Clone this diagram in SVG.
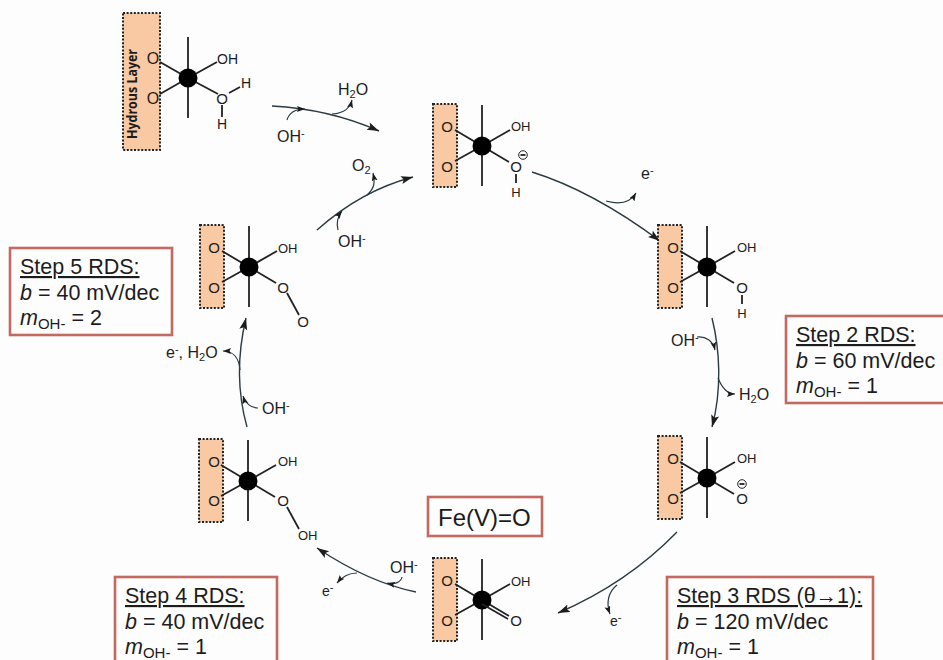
<svg xmlns="http://www.w3.org/2000/svg" width="943" height="660" viewBox="0 0 943 660">
<style>
.bg{fill:#fdfdfe}
.layer{fill:#f8c9a3;stroke:#222;stroke-width:2;stroke-dasharray:2 1.6}
.bond{stroke:#222;stroke-width:1.8;fill:none}
.c{stroke:#2a3a40;stroke-width:1.4;fill:none;marker-end:url(#a)}
.b{stroke:#2a3a40;stroke-width:1.2;fill:none;marker-end:url(#s)}
.box{fill:#fdfdfe;stroke:#c26a60;stroke-width:2.6}
text{font-family:"Liberation Sans",Arial,sans-serif;fill:#1c1c1c}
.l{font-size:13px}
.o{font-size:15px}
.n{font-size:16px}
.e{font-size:14px}
.t{font-size:21.5px}
.u{text-decoration:underline}
.i{font-style:italic}
.sub{font-size:15px}
.ss{font-size:11px}
.m{text-anchor:middle}
.big{font-family:"Open Sans","DejaVu Sans",sans-serif;font-size:15px;font-weight:700}
</style>
<defs>
<marker id="a" markerWidth="13" markerHeight="9" refX="12" refY="4" orient="auto" markerUnits="userSpaceOnUse"><path d="M0,0L12,4L0,8L2.5,4Z" fill="#1c1c1c"/></marker>
<marker id="s" markerWidth="9" markerHeight="7" refX="8" refY="3" orient="auto" markerUnits="userSpaceOnUse"><path d="M0,0L8,3L0,6L1.5,3Z" fill="#1c1c1c"/></marker>
<g id="core">
<rect class="layer" x="-49" y="-42" width="24" height="83"/>
<path class="bond" d="M0,-41V40M-27,-16L0,0M-27,15L0,0M28,-16L0,0M27,16L0,0"/>
<circle r="9.5" fill="#000"/>
</g>
</defs>
<rect class="bg" width="943" height="660"/>
<g id="connectors">
<path class="c" d="M272,106C310,108 345,116 379,131"/>
<path class="b" d="M287,120C289,113 295,109 305,109"/>
<path class="b" d="M332,114C345,113 350,108 352,100"/>
<path class="c" d="M532,172C580,187 625,215 660,241"/>
<path class="b" d="M606,201C620,205 630,203 636,193"/>
<path class="c" d="M712,318C720,350 722,390 712,427"/>
<path class="b" d="M697,337C706,336 713,341 715,350"/>
<path class="b" d="M718,378C722,388 727,394 735,394"/>
<path class="c" d="M677,532C640,570 600,595 558,613"/>
<path class="b" d="M617,585C608,592 606,603 610,614"/>
<path class="c" d="M416,592C382,585 350,570 317,548"/>
<path class="b" d="M402,577C401,582 395,585 387,583"/>
<path class="b" d="M357,573C348,573 342,577 337,583"/>
<path class="c" d="M247,427C238,395 236,360 246,318"/>
<path class="b" d="M258,408C251,408 245,403 243,396"/>
<path class="b" d="M240,370C239,358 233,351 223,351"/>
<path class="c" d="M317,230C345,205 375,187 413,177"/>
<path class="b" d="M338,230C336,222 338,216 342,211"/>
<path class="b" d="M367,195C375,188 375,182 373,173"/>
</g>
<g id="node-1">
<rect class="layer" x="123" y="13" width="37" height="137"/>
<text class="big" transform="translate(137,139) rotate(-90)" textLength="90" lengthAdjust="spacingAndGlyphs">Hydrous Layer</text>
<path class="bond" d="M160,62L188,78M160,94L188,78M188,37V118M217,62L188,78M218,94L188,78M229,93L240,87M222,105V117"/>
<circle cx="188" cy="78" r="9.5" fill="#000"/>
<text class="o m" x="153" y="64" style="font-size:16px">O</text><text class="o m" x="153" y="104" style="font-size:16px">O</text>
<text class="e" x="217" y="64">OH</text><text class="o m" x="222" y="104">O</text>
<text class="e m" x="246" y="88">H</text><text class="e m" x="222" y="129">H</text>
</g>
<g id="node-2">
<use href="#core" x="482" y="146"/>
<text class="o m" x="447" y="132">O</text><text class="o m" x="447" y="172">O</text>
<text class="l" x="511" y="131">OH</text><text class="o m" x="516" y="172">O</text>
<path class="bond" d="M516,174V183"/><text class="l m" x="516" y="197">H</text>
<circle cx="523" cy="155" r="4.3" fill="none" stroke="#222"/><path class="bond" d="M520.5,155H525.5"/>
</g>
<g id="node-3">
<use href="#core" x="707" y="267"/>
<text class="o m" x="673" y="253">O</text><text class="o m" x="673" y="293">O</text>
<text class="l" x="737" y="252">OH</text><text class="o m" x="742" y="293">O</text>
<path class="bond" d="M742,295V304"/><text class="l m" x="742" y="318">H</text>
</g>
<g id="node-4">
<use href="#core" x="707" y="478"/>
<text class="o m" x="673" y="464">O</text><text class="o m" x="673" y="504">O</text>
<text class="l" x="737" y="463">OH</text><text class="o m" x="742" y="504">O</text>
<circle cx="742" cy="484" r="4.3" fill="none" stroke="#222"/><path class="bond" d="M739.5,484H744.5"/>
</g>
<g id="node-5">
<use href="#core" x="482" y="600"/>
<path class="bond" d="M482,604L508,619"/>
<text class="o m" x="447" y="586">O</text><text class="o m" x="447" y="626">O</text>
<text class="l" x="511" y="586">OH</text><text class="o m" x="516" y="626">O</text>
</g>
<g id="node-6">
<use href="#core" x="248" y="481"/>
<text class="o m" x="214" y="467">O</text><text class="o m" x="214" y="506">O</text>
<text class="l" x="278" y="466">OH</text><text class="o m" x="283" y="506">O</text>
<path class="bond" d="M287,507L299,529"/><text class="l" x="298" y="540">OH</text>
</g>
<g id="node-7">
<use href="#core" x="249" y="267"/>
<text class="o m" x="214" y="253">O</text><text class="o m" x="214" y="293">O</text>
<text class="l" x="278" y="253">OH</text><text class="o m" x="283" y="293">O</text>
<path class="bond" d="M287,293L299,315"/><text class="o m" x="303" y="327">O</text>
</g>
<g id="species">
<text class="n" x="338" y="95">H<tspan class="ss" dy="3">2</tspan><tspan dy="-3">O</tspan></text>
<text class="n" x="277" y="142">OH<tspan class="ss" dy="-5">-</tspan></text>
<text class="n" x="352" y="171">O<tspan class="ss" dy="3">2</tspan></text>
<text class="n" x="641" y="179">e<tspan class="ss" dy="-5">-</tspan></text>
<text class="n" x="671" y="346">OH<tspan class="ss" dy="-5">-</tspan></text>
<text class="n" x="739" y="400">H<tspan class="ss" dy="3">2</tspan><tspan dy="-3">O</tspan></text>
<text class="e" x="610" y="626">e<tspan class="ss" dy="-5">-</tspan></text>
<text class="n" x="390" y="573">OH<tspan class="ss" dy="-5">-</tspan></text>
<text class="e" x="322" y="596">e<tspan class="ss" dy="-5">-</tspan></text>
<text class="n" x="166" y="358">e<tspan class="ss" dy="-5">-</tspan><tspan dy="5">, H</tspan><tspan class="ss" dy="3">2</tspan><tspan dy="-3">O</tspan></text>
<text class="n" x="262" y="414">OH<tspan class="ss" dy="-5">-</tspan></text>
<text class="n" x="338" y="247">OH<tspan class="ss" dy="-5">-</tspan></text>
</g>
<g id="box-fe">
<rect class="box" x="428" y="497" width="114" height="39"/>
<text x="438" y="526" font-size="24">Fe(V)=O</text>
</g>
<g id="box-step5">
<rect class="box" x="10" y="248" width="162" height="87"/>
<text class="t u" x="20" y="274">Step 5 RDS:</text>
<text class="t" x="20" y="300"><tspan class="i">b</tspan> = 40 mV/dec</text>
<text class="t" x="20" y="325"><tspan class="i">m</tspan><tspan class="sub" dy="4">OH-</tspan><tspan dy="-4"> = 2</tspan></text>
</g>
<g id="box-step2">
<rect class="box" x="786" y="316" width="160" height="87"/>
<text class="t u" x="796" y="342">Step 2 RDS:</text>
<text class="t" x="796" y="368"><tspan class="i">b</tspan> = 60 mV/dec</text>
<text class="t" x="796" y="393"><tspan class="i">m</tspan><tspan class="sub" dy="4">OH-</tspan><tspan dy="-4"> = 1</tspan></text>
</g>
<g id="box-step3">
<rect class="box" x="667" y="577" width="206" height="86"/>
<text class="t u" x="677" y="603">Step 3 RDS (θ→1):</text>
<text class="t" x="677" y="629"><tspan class="i">b</tspan> = 120 mV/dec</text>
<text class="t" x="677" y="654"><tspan class="i">m</tspan><tspan class="sub" dy="4">OH-</tspan><tspan dy="-4"> = 1</tspan></text>
</g>
<g id="box-step4">
<rect class="box" x="115" y="577" width="162" height="86"/>
<text class="t u" x="125" y="603">Step 4 RDS:</text>
<text class="t" x="125" y="629"><tspan class="i">b</tspan> = 40 mV/dec</text>
<text class="t" x="125" y="654"><tspan class="i">m</tspan><tspan class="sub" dy="4">OH-</tspan><tspan dy="-4"> = 1</tspan></text>
</g>
</svg>
